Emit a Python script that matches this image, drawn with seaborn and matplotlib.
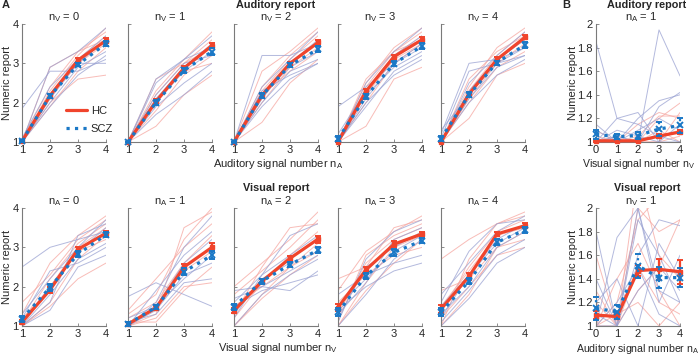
import matplotlib
matplotlib.use("Agg")
import matplotlib.pyplot as plt
from matplotlib.lines import Line2D
import seaborn as sns
import pandas as pd
import numpy as np

sns.set_style("ticks")
plt.rcParams['font.family'] = ['Liberation Sans', 'DejaVu Sans']
plt.rcParams['mathtext.fontset'] = 'custom'
plt.rcParams['mathtext.rm'] = 'Liberation Sans'

# ---------------- data ----------------
nums_A = [1, 2, 3, 4]
nums_B = [0, 1, 2, 3, 4]

# group means, panel A (top row: auditory report, nV = 0..4; bottom row: visual report, nA = 0..4)
aud_hc = [[1.02, 2.18, 3.08, 3.58], [1.00, 2.03, 2.88, 3.45], [1.00, 2.19, 3.00, 3.53],
          [1.00, 2.29, 3.17, 3.60], [1.00, 2.22, 3.10, 3.66]]
aud_scz = [[1.03, 2.17, 2.97, 3.50], [1.00, 2.00, 2.82, 3.30], [1.00, 2.18, 2.95, 3.36],
           [1.08, 2.16, 2.99, 3.44], [1.08, 2.20, 3.02, 3.47]]
aud_hc_err = [[0.02, 0.05, 0.05, 0.06], [0.01, 0.06, 0.05, 0.07], [0.01, 0.05, 0.04, 0.06],
              [0.01, 0.06, 0.05, 0.06], [0.01, 0.05, 0.05, 0.05]]
aud_scz_err = [[0.03, 0.06, 0.05, 0.07], [0.01, 0.06, 0.06, 0.08], [0.01, 0.06, 0.05, 0.08],
               [0.06, 0.07, 0.06, 0.08], [0.06, 0.06, 0.05, 0.07]]

vis_hc = [[1.10, 1.92, 2.95, 3.36], [1.05, 1.46, 2.50, 3.00], [1.39, 2.14, 2.72, 3.21],
          [1.47, 2.43, 3.08, 3.34], [1.43, 2.26, 3.34, 3.55]]
vis_scz = [[1.18, 1.98, 2.83, 3.32], [1.05, 1.48, 2.38, 2.80], [1.49, 2.14, 2.56, 2.93],
           [1.35, 2.28, 2.87, 3.17], [1.35, 2.14, 3.13, 3.44]]
vis_hc_err = [[0.06, 0.07, 0.06, 0.06], [0.04, 0.06, 0.08, 0.10], [0.06, 0.05, 0.06, 0.09],
              [0.09, 0.08, 0.07, 0.06], [0.10, 0.08, 0.06, 0.06]]
vis_scz_err = [[0.08, 0.10, 0.07, 0.06], [0.04, 0.06, 0.09, 0.10], [0.08, 0.06, 0.07, 0.08],
               [0.10, 0.08, 0.08, 0.07], [0.10, 0.08, 0.08, 0.07]]

# group means, panel B
b_aud_hc = [1.01, 1.01, 1.01, 1.05, 1.085]
b_aud_scz = [1.065, 1.045, 1.055, 1.11, 1.14]
b_aud_hc_err = [0.01, 0.01, 0.01, 0.02, 0.02]
b_aud_scz_err = [0.04, 0.02, 0.03, 0.06, 0.06]
b_vis_hc = [1.093, 1.08, 1.47, 1.48, 1.46]
b_vis_scz = [1.15, 1.12, 1.51, 1.41, 1.41]
b_vis_hc_err = [0.03, 0.02, 0.05, 0.09, 0.10]
b_vis_scz_err = [0.10, 0.06, 0.10, 0.09, 0.08]

# individual participants (a subset)
ind_aud_hc = [
    [[1.0, 2.1, 3.1, 3.7], [1.0, 2.3, 3.2, 3.9], [1.0, 1.9, 2.8, 3.4], [1.05, 2.4, 3.3, 3.8], [1.0, 2.0, 2.6, 2.7], [1.0, 2.2, 3.0, 3.5], [1.0, 2.9, 3.3, 3.6]],
    [[1.0, 2.0, 2.9, 3.5], [1.0, 2.3, 3.1, 3.8], [1.0, 1.8, 2.7, 3.2], [1.0, 1.4, 2.2, 2.7], [1.0, 2.2, 3.0, 3.6], [1.0, 2.6, 3.0, 3.4], [1.0, 2.1, 2.8, 3.0]],
    [[1.0, 1.5, 2.5, 3.1], [1.0, 2.3, 3.1, 3.7], [1.0, 2.0, 2.9, 3.4], [1.0, 2.4, 3.2, 3.8], [1.0, 2.1, 3.0, 3.5], [1.0, 2.8, 3.3, 3.9], [1.0, 2.2, 2.8, 3.3]],
    [[1.0, 1.4, 2.6, 2.9], [1.0, 2.4, 3.3, 3.8], [1.0, 2.2, 3.1, 3.5], [1.0, 2.5, 3.4, 3.9], [1.0, 2.0, 3.0, 3.5], [1.0, 2.3, 3.2, 3.7], [1.0, 2.6, 3.3, 3.6]],
    [[1.0, 1.6, 2.7, 3.0], [1.0, 2.3, 3.2, 3.8], [1.0, 2.1, 3.0, 3.5], [1.0, 2.4, 3.4, 3.9], [1.0, 2.2, 3.1, 3.6], [1.0, 2.0, 2.9, 3.3], [1.0, 2.6, 3.3, 3.7]],
]
ind_aud_scz = [
    [[1.85, 2.8, 2.8, 3.1], [1.0, 2.2, 3.0, 3.6], [1.0, 2.0, 2.9, 3.3], [1.1, 2.4, 3.1, 3.7], [1.0, 1.9, 2.7, 3.2], [1.0, 2.9, 3.3, 3.9], [1.0, 2.1, 3.0, 3.0]],
    [[1.0, 2.0, 2.8, 3.3], [1.0, 2.5, 3.1, 3.7], [1.0, 1.7, 2.2, 2.8], [1.0, 2.1, 2.9, 3.5], [1.0, 1.9, 2.5, 3.0], [1.0, 2.2, 3.0, 3.2], [1.0, 2.6, 3.1, 3.4]],
    [[1.0, 3.2, 3.2, 3.5], [1.0, 2.2, 2.9, 3.3], [1.0, 1.9, 2.6, 3.0], [1.0, 2.1, 3.0, 3.6], [1.0, 2.0, 2.8, 3.1], [1.0, 2.4, 3.1, 3.8], [1.0, 2.3, 2.7, 3.0]],
    [[1.9, 2.4, 3.0, 3.4], [1.1, 2.2, 2.9, 3.3], [1.0, 2.0, 2.7, 3.1], [1.2, 2.3, 3.2, 3.7], [1.0, 1.9, 2.8, 3.2], [1.0, 2.5, 3.3, 3.9], [1.0, 2.1, 3.0, 3.5]],
    [[1.2, 3.0, 3.1, 3.4], [1.3, 2.2, 3.0, 3.4], [1.0, 2.1, 2.9, 3.2], [1.0, 2.5, 3.2, 3.8], [1.0, 2.0, 2.7, 3.1], [1.0, 2.3, 3.1, 3.6], [1.1, 2.8, 3.0, 3.2]],
]
ind_vis_hc = [
    [[1.0, 1.6, 2.7, 3.3], [1.1, 2.2, 3.1, 3.6], [1.3, 2.6, 3.3, 3.8], [1.0, 1.5, 2.2, 2.6], [1.0, 2.0, 3.0, 3.5], [1.2, 1.9, 2.9, 3.2], [1.6, 2.3, 3.2, 3.7]],
    [[1.0, 1.3, 3.5, 3.9], [1.2, 1.6, 2.6, 3.3], [1.0, 1.2, 2.0, 2.1], [1.4, 2.2, 3.0, 3.6], [1.0, 1.5, 2.4, 2.9], [1.1, 1.1, 1.9, 2.5], [1.3, 1.8, 3.2, 4.0]],
    [[1.0, 1.8, 2.5, 3.1], [1.8, 2.4, 3.0, 3.7], [1.2, 2.1, 2.8, 3.4], [1.5, 2.0, 2.5, 2.9], [2.0, 2.6, 3.2, 3.9], [1.0, 1.7, 2.3, 2.8], [1.3, 2.5, 3.5, 3.6]],
    [[1.0, 2.1, 3.0, 3.3], [1.9, 2.9, 3.4, 3.8], [1.3, 2.6, 3.2, 3.5], [1.6, 2.3, 2.8, 3.0], [1.0, 1.9, 2.6, 3.2], [2.2, 2.5, 3.5, 3.7], [1.1, 2.8, 3.3, 3.6]],
    [[2.7, 3.2, 3.6, 3.8], [1.0, 1.8, 3.0, 3.4], [1.4, 2.5, 3.4, 3.7], [1.9, 2.2, 3.0, 3.2], [1.2, 2.0, 2.8, 3.0], [1.0, 2.7, 3.6, 3.9], [1.5, 2.4, 3.3, 3.5]],
]
ind_vis_scz = [
    [[2.5, 3.0, 3.2, 3.4], [1.0, 1.4, 2.5, 2.8], [1.1, 2.0, 2.9, 3.5], [1.0, 1.8, 2.7, 3.1], [1.3, 2.2, 3.0, 3.7], [1.0, 1.6, 3.3, 3.6], [1.2, 2.4, 2.6, 3.0]],
    [[1.75, 2.1, 1.8, 1.5], [1.0, 1.4, 2.3, 2.6], [1.0, 1.6, 3.0, 3.8], [1.1, 1.3, 2.1, 2.2], [1.0, 1.5, 2.6, 3.2], [1.0, 1.9, 2.8, 3.4], [1.2, 1.5, 2.2, 2.8]],
    [[1.9, 2.0, 1.9, 2.4], [1.3, 2.2, 2.6, 2.9], [1.0, 1.8, 2.3, 2.7], [1.6, 2.3, 2.8, 3.3], [1.5, 1.9, 2.1, 2.3], [1.2, 2.3, 3.3, 3.6], [1.7, 2.0, 2.4, 2.8]],
    [[1.4, 2.0, 2.4, 2.6], [1.2, 2.5, 3.0, 3.4], [1.0, 1.8, 2.7, 3.2], [1.8, 2.3, 2.6, 2.8], [1.1, 2.7, 3.4, 3.7], [1.5, 2.2, 2.9, 3.3], [1.3, 2.1, 3.2, 3.5]],
    [[1.5, 2.3, 3.1, 3.5], [1.8, 2.6, 3.4, 3.8], [1.1, 1.9, 2.8, 3.2], [1.3, 2.0, 3.0, 3.4], [1.0, 1.7, 2.6, 3.0], [1.6, 2.9, 3.6, 3.7], [1.2, 2.3, 3.2, 3.6]],
]
ind_b_aud_hc = [[1.0, 1.0, 1.0, 1.05, 1.1], [1.0, 1.0, 1.0, 1.2, 1.33], [1.05, 1.0, 1.0, 1.0, 1.05],
                [1.0, 1.0, 1.15, 1.25, 1.2], [1.0, 1.05, 1.0, 1.1, 1.0], [1.0, 1.0, 1.0, 1.0, 1.25],
                [1.1, 1.0, 1.05, 1.22, 1.22]]
ind_b_aud_scz = [[1.85, 1.2, 1.25, 1.0, 1.0], [1.0, 1.05, 1.0, 1.95, 1.56], [1.15, 1.0, 1.2, 1.35, 1.4],
                 [1.0, 1.1, 1.05, 1.0, 1.15], [1.1, 1.0, 1.0, 1.3, 1.42], [1.0, 1.0, 1.1, 1.2, 1.1],
                 [1.0, 1.2, 1.15, 1.05, 1.0]]
ind_b_vis_hc = [[1.0, 1.0, 2.0, 1.8, 1.9], [1.3, 1.0, 1.5, 1.2, 1.1], [1.0, 1.2, 1.9, 2.1, 2.2],
                [1.6, 1.0, 1.3, 1.5, 1.9], [1.0, 1.1, 1.2, 1.0, 1.2], [1.2, 1.0, 2.3, 1.6, 1.4],
                [1.0, 1.4, 1.7, 1.3, 1.0]]
ind_b_vis_scz = [[1.0, 1.75, 2.0, 1.3, 1.2], [1.4, 1.0, 1.6, 1.9, 1.85], [1.0, 1.2, 1.5, 1.1, 1.0],
                 [1.8, 1.0, 1.3, 1.5, 1.3], [1.0, 1.0, 2.0, 1.2, 1.6], [1.2, 1.4, 1.0, 1.7, 1.4],
                 [1.1, 1.0, 1.9, 1.6, 1.2]]

HC_COL = '#F0442C'
SCZ_COL = '#1B78C6'
HC_IND = '#F6A6A0'
SCZ_IND = '#9AA2D2'
FS = 8

W, H = 700, 357
fig = plt.figure(figsize=(W / 100, H / 100), dpi=100)


def px_ax(left, top, width, height):
    return fig.add_axes([left / W, 1 - (top + height) / H, width / W, height / H])


def ftext(x, y, s, fs=FS, **kw):
    fig.text(x / W, 1 - y / H, s, ha='center', va='center', fontsize=fs, **kw)


def draw_panel(ax, xs, ind_hc, ind_scz, m_hc, m_scz, e_hc, e_scz):
    rows = []
    for g, ind in (('HC', ind_hc), ('SCZ', ind_scz)):
        for s, vals in enumerate(ind):
            for x, v in zip(xs, vals):
                rows.append({'x': x, 'y': v, 'subj': f'{g}{s}', 'group': g})
    df = pd.DataFrame(rows)
    sns.lineplot(data=df, x='x', y='y', hue='group', units='subj', estimator=None,
                 palette={'HC': HC_IND, 'SCZ': SCZ_IND}, lw=0.7, alpha=0.75,
                 legend=False, ax=ax)
    eb1 = ax.errorbar(xs, m_hc, yerr=e_hc, color=HC_COL, lw=2.3, marker='s', ms=3.5,
                      capsize=2.2, capthick=1.4, elinewidth=1.6, clip_on=False, zorder=5)
    eb2 = ax.errorbar(xs, m_scz, yerr=e_scz, color=SCZ_COL, lw=2.3, ls=':', marker='x', ms=4,
                      mew=1.4, capsize=2.2, capthick=1.4, elinewidth=1.6,
                      clip_on=False, zorder=6)
    for b in eb1[1] + eb1[2] + eb2[1] + eb2[2]:
        b.set_clip_on(False)
    eb2[2][0].set_linestyle(':')
    ax.set_xlabel('')
    ax.set_ylabel('')
    ax.set_xticks(xs)
    ax.set_xlim(xs[0], xs[-1])
    sns.despine(ax=ax)
    for sp in ('left', 'bottom'):
        ax.spines[sp].set_color('#7a7a7a')
        ax.spines[sp].set_linewidth(0.8)
    ax.tick_params(direction='in', length=2.5, width=0.6, color='#7a7a7a', labelsize=FS, pad=2.5)
    ax.set_facecolor('none')


lefts = [22, 128, 234, 338, 441]
panel_w = 84

for i in range(5):
    # top row: auditory report
    ax = px_ax(lefts[i], 24, panel_w, 118)
    draw_panel(ax, nums_A, ind_aud_hc[i], ind_aud_scz[i], aud_hc[i], aud_scz[i],
               aud_hc_err[i], aud_scz_err[i])
    ax.set_ylim(1, 4)
    ax.set_yticks([1, 2, 3, 4])
    if i > 0:
        ax.set_yticklabels([])
    else:
        handles = [Line2D([], [], color=HC_COL, lw=2.3),
                   Line2D([], [], color=SCZ_COL, lw=2.3, ls=':')]
        ax.legend(handles, ['HC', 'SCZ'], loc='lower left', frameon=False, fontsize=FS,
                  handlelength=1.9, handletextpad=0.35, labelspacing=0.75,
                  bbox_to_anchor=(0.47, 0.03), borderaxespad=0)
    ftext(lefts[i] + panel_w / 2, 17, r'n$_\mathregular{V}$ = %d' % i)

    # bottom row: visual report
    ax = px_ax(lefts[i], 208, panel_w, 118)
    draw_panel(ax, nums_A, ind_vis_hc[i], ind_vis_scz[i], vis_hc[i], vis_scz[i],
               vis_hc_err[i], vis_scz_err[i])
    ax.set_ylim(1, 4)
    ax.set_yticks([1, 2, 3, 4])
    if i > 0:
        ax.set_yticklabels([])
    ftext(lefts[i] + panel_w / 2, 201, r'n$_\mathregular{A}$ = %d' % i)

# panel B
axb1 = px_ax(596, 24, panel_w, 118)
draw_panel(axb1, nums_B, ind_b_aud_hc, ind_b_aud_scz, b_aud_hc, b_aud_scz, b_aud_hc_err, b_aud_scz_err)
axb2 = px_ax(596, 208, panel_w, 118)
draw_panel(axb2, nums_B, ind_b_vis_hc, ind_b_vis_scz, b_vis_hc, b_vis_scz, b_vis_hc_err, b_vis_scz_err)
for ax in (axb1, axb2):
    ax.set_ylim(1, 2)
    ax.set_yticks([1, 1.2, 1.4, 1.6, 1.8, 2])
    ax.set_yticklabels(['1', '1.2', '1.4', '1.6', '1.8', '2'])

ftext(641, 17, r'n$_\mathregular{A}$ = 1')
ftext(641, 201, r'n$_\mathregular{V}$ = 1')

# headings and labels
ftext(276, 5, 'Auditory report', fs=7.8, fontweight='bold')
ftext(276, 188, 'Visual report', fs=7.8, fontweight='bold')
ftext(647, 5, 'Auditory report', fs=7.8, fontweight='bold')
ftext(647, 188, 'Visual report', fs=7.8, fontweight='bold')
ftext(6, 5, 'A', fontweight='bold')
ftext(566, 5, 'B', fontweight='bold')

ftext(278, 164, r'Auditory signal number n$_\mathregular{A}$')
ftext(278, 348, r'Visual signal number n$_\mathregular{V}$')
ftext(639, 164, r'Visual signal number n$_\mathregular{V}$', fs=7.6)
ftext(638, 349, r'Auditory signal number n$_\mathregular{A}$', fs=7.6)

ftext(7, 83, 'Numeric report', rotation=90)
ftext(7, 267, 'Numeric report', rotation=90)
ftext(573, 83, 'Numeric report', rotation=90)
ftext(573, 267, 'Numeric report', rotation=90)

fig.savefig('out.png', dpi=100, facecolor='white')
